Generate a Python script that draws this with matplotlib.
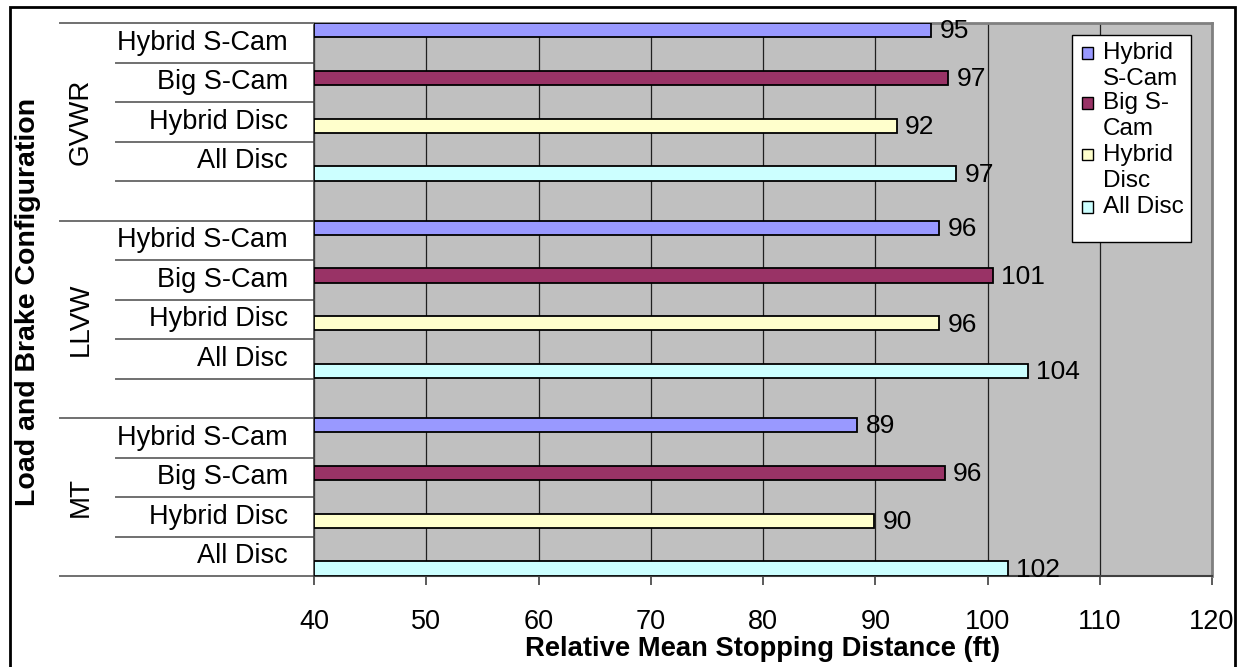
import matplotlib
matplotlib.use("Agg")
import matplotlib.pyplot as plt
import matplotlib.transforms as mtransforms
from matplotlib.patches import Rectangle

plt.rcParams['font.family'] = ['Liberation Sans', 'DejaVu Sans']

# data
groups = ["GVWR", "LLVW", "MT"]
configs = ["Hybrid S-Cam", "Big S-Cam", "Hybrid Disc", "All Disc"]
legend_labels = ["Hybrid\nS-Cam", "Big S-\nCam", "Hybrid\nDisc", "All Disc"]
gvwr_vals = [95.0, 96.5, 91.9, 97.2]
llvw_vals = [95.7, 100.5, 95.7, 103.6]
mt_vals = [88.4, 96.2, 89.9, 101.8]
gvwr_text = ["95", "97", "92", "97"]
llvw_text = ["96", "101", "96", "104"]
mt_text = ["89", "96", "90", "102"]
colors = ["#9999FF", "#993366", "#FFFFCC", "#CCFFFF"]

W, H = 1241, 667
fig = plt.figure(figsize=(W / 100, H / 100), dpi=100)

def fx(px):
    return px / W

def fy(py):
    return 1 - py / H

ax = fig.add_axes([fx(314), fy(576), 898 / W, 553 / H])
ax.set_facecolor("#C0C0C0")

# 14 category slots: 4 configs per group, blank slot after GVWR and LLVW
group_start = [0, 5, 10]
all_vals = [gvwr_vals, llvw_vals, mt_vals]
all_text = [gvwr_text, llvw_text, mt_text]

for g in range(3):
    for j in range(4):
        slot = group_start[g] + j
        yc = slot + 0.18 + 0.21 * j
        ax.barh(yc, all_vals[g][j] - 40, left=40, height=0.36, color=colors[j],
                edgecolor="black", linewidth=1.3, zorder=3)
        ax.annotate(all_text[g][j], (all_vals[g][j], yc), xytext=(6, -1),
                    textcoords="offset points", ha="left", va="center",
                    fontsize=19, zorder=6, annotation_clip=False)

ax.set_xlim(40, 120)
ax.set_ylim(14, 0)
ax.set_xticks(range(40, 121, 10))
ax.set_yticks([])
ax.tick_params(axis="x", direction="out", length=6.5, width=1.2, color="#404040",
               labelsize=19.5, pad=17)
ax.xaxis.grid(True, color="#202020", linewidth=0.9)
ax.set_axisbelow(True)

for side in ["top", "right"]:
    ax.spines[side].set_color("#808080")
    ax.spines[side].set_linewidth(2)
ax.spines["left"].set_color("#404040")
ax.spines["bottom"].set_color("#404040")
ax.spines["left"].set_linewidth(1.2)
ax.spines["bottom"].set_linewidth(1.5)

# multi-level category axis
trans = mtransforms.blended_transform_factory(ax.transAxes, ax.transData)
x_long = (60 - 314) / 898
x_short = (116 - 314) / 898
for b in range(15):
    if b in (0, 5, 10, 14):
        x0 = x_long
    else:
        x0 = x_short
    ax.plot([x0, 0], [b, b], transform=trans, color="#707070", linewidth=1.4,
            clip_on=False)

for g in range(3):
    for j in range(4):
        ax.text((288 - 314) / 898, group_start[g] + j + 0.5, configs[j], transform=trans,
                ha="right", va="center", fontsize=19.5)
    ax.text((81 - 314) / 898, group_start[g] + (2.5 if g < 2 else 2.0), groups[g],
            transform=trans, rotation=90, ha="center", va="center", fontsize=20)

fig.text(fx(28), fy(302), "Load and Brake Configuration", rotation=90,
         ha="center", va="center", fontsize=20.5, fontweight="bold")
fig.text(fx(763), fy(656), "Relative Mean Stopping Distance (ft)", ha="center",
         va="baseline", fontsize=19.7, fontweight="bold")

# legend box
fig.add_artist(Rectangle((fx(1072), fy(242)), 119 / W, 207 / H, transform=fig.transFigure,
                         facecolor="white", edgecolor="black", linewidth=1, zorder=4))
entry_y = [53, 103, 155, 207]
for j in range(4):
    fig.add_artist(Rectangle((fx(1082), fy(entry_y[j] + 5.5)), 11 / W, 11 / H,
                             transform=fig.transFigure, facecolor=colors[j],
                             edgecolor="black", linewidth=1, zorder=5))
    lines = legend_labels[j].split("\n")
    for k, line in enumerate(lines):
        fig.text(fx(1103), fy(entry_y[j] + 26 * k), line, ha="left", va="center",
                 fontsize=17.5, zorder=6)

# outer border
fig.add_artist(Rectangle((fx(10), fy(700)), 1225 / W, 693 / H, transform=fig.transFigure,
                         facecolor="none", edgecolor="black", linewidth=2, zorder=10,
                         clip_on=False))

fig.savefig("out.png", dpi=100)
